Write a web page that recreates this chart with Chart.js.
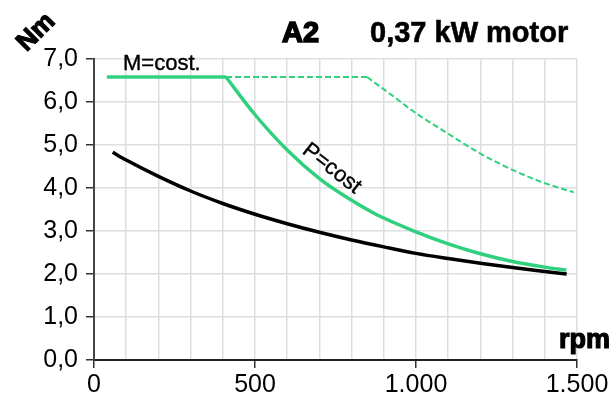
<!DOCTYPE html>
<html><head><meta charset="utf-8">
<script src="https://cdn.jsdelivr.net/npm/chart.js@4/dist/chart.umd.min.js"></script>
<style>html,body{margin:0;padding:0;background:#fff}#wrap{width:615px;height:400px}</style>
</head><body><div id="wrap"><canvas id="c" width="615" height="400"></canvas></div>
<script>
const rpmBlack = [58, 100, 200, 300, 400, 500, 600, 700, 800, 900, 1000, 1100, 1200, 1300, 1400, 1468];
const torqueBlack = [4.83, 4.65, 4.27, 3.93, 3.64, 3.39, 3.17, 2.97, 2.79, 2.63, 2.48, 2.36, 2.25, 2.15, 2.06, 2.00];
const rpmPower = [40, 410, 495, 599, 703, 775, 868, 1000, 1100, 1200, 1300, 1400, 1467];
const torquePower = [6.58, 6.58, 5.75, 4.89, 4.20, 3.83, 3.42, 2.98, 2.70, 2.47, 2.29, 2.16, 2.09];
const rpmDash = [410, 848, 930, 998, 1096, 1200, 1303, 1397, 1490];
const torqueDash = [6.58, 6.58, 6.13, 5.75, 5.28, 4.80, 4.41, 4.12, 3.90];
const xTickValues = [0, 500, 1000, 1500];
const yTickValues = [0, 1, 2, 3, 4, 5, 6, 7];

const pts = (xs, ys) => xs.map((x, i) => ({x: x, y: ys[i]}));
const GREEN = '#2fd17f';
const FONT = "'Liberation Sans', Arial, sans-serif";

const line = (data, color, width, dash) => ({
  data: data, showLine: true, borderColor: color, borderWidth: width,
  borderDash: dash || [], pointRadius: 0, cubicInterpolationMode: 'monotone', fill: false
});

const textPlugin = {
  id: 'texts',
  afterDraw(chart) {
    const c = chart.ctx;
    c.save();
    c.fillStyle = '#000';
    c.strokeStyle = '#000';
    c.textBaseline = 'alphabetic';
    c.font = 'bold 29px ' + FONT;
    c.lineWidth = 1.6;
    c.fillText('A2', 282, 42);
    c.strokeText('A2', 282, 42);
    c.lineWidth = 0.6;
    c.fillText('0,37 kW motor', 370, 42);
    c.strokeText('0,37 kW motor', 370, 42);
    c.lineWidth = 1.2;
    c.save();
    c.translate(35, 31);
    c.rotate(-Math.PI / 4);
    c.font = 'bold 26px ' + FONT;
    c.textAlign = 'center';
    c.fillText('Nm', 0, 9);
    c.strokeText('Nm', 0, 9);
    c.restore();
    c.font = 'bold 27px ' + FONT;
    c.fillText('rpm', 559, 348);
    c.strokeText('rpm', 559, 348);
    c.lineWidth = 0.4;
    c.font = '22px ' + FONT;
    c.fillText('M=cost.', 123, 70);
    c.strokeText('M=cost.', 123, 70);
    c.save();
    c.translate(333, 167);
    c.rotate(38 * Math.PI / 180);
    c.textAlign = 'center';
    c.font = '22px ' + FONT;
    c.fillText('P=cost', 0, 8);
    c.strokeText('P=cost', 0, 8);
    c.restore();
    c.restore();
  }
};

const powerPts = pts(rpmPower, torquePower);
const dashPts = pts(rpmDash, torqueDash);

new Chart(document.getElementById('c'), {
  type: 'scatter',
  data: {
    datasets: [
      line(dashPts.slice(0, 2), GREEN, 2, [6, 3]),
      line(dashPts.slice(1), GREEN, 2, [6, 3]),
      line(powerPts.slice(0, 2), GREEN, 3.5),
      line(powerPts.slice(1), GREEN, 3.5),
      line(pts(rpmBlack, torqueBlack), '#000', 3.5)
    ]
  },
  options: {
    responsive: false,
    animation: false,
    events: [],
    layout: {padding: {top: 59, right: 38, left: 0, bottom: 0}},
    plugins: {legend: {display: false}, tooltip: {enabled: false}},
    scales: {
      x: {
        type: 'linear', min: 0, max: 1500,
        afterFit: s => { s.height = 40; },
        ticks: {
          stepSize: 100, autoSkip: false, maxRotation: 0, padding: 2,
          color: '#000', font: {family: FONT, size: 25},
          callback: v => xTickValues.includes(v) ? String(v).replace(/\B(?=(\d{3})+$)/, '.') : ''
        },
        grid: {color: '#dedede', lineWidth: 1.5, tickLength: 8,
          tickColor: ctx => (ctx.tick && xTickValues.includes(ctx.tick.value)) ? '#333' : 'rgba(0,0,0,0)', tickWidth: 1.5},
        border: {color: '#222', width: 2}
      },
      y: {
        min: 0, max: 7,
        afterFit: s => { s.width = 94; },
        ticks: {
          stepSize: 1, padding: 8, color: '#000', font: {family: FONT, size: 25},
          callback: v => yTickValues.includes(v) ? v.toFixed(1).replace('.', ',') : ''
        },
        grid: {color: '#dedede', lineWidth: 1.5, tickLength: 8, tickColor: '#333', tickWidth: 1.5},
        border: {color: '#444', width: 2}
      }
    }
  },
  plugins: [textPlugin]
});
</script>
</body></html>
